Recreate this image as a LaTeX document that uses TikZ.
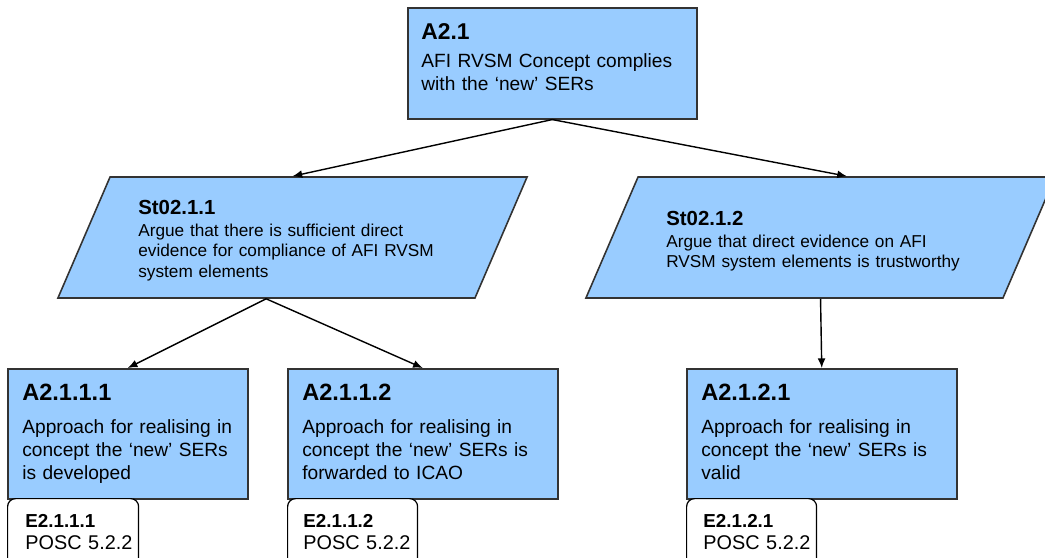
\documentclass[tikz,border=0pt]{standalone}
\usepackage{fontspec}
\setmainfont{Liberation Sans}
\usetikzlibrary{shapes.geometric,arrows.meta}
\definecolor{goalblue}{RGB}{153,204,255}

\begin{document}
\begin{tikzpicture}[x=0.02cm, y=-0.02cm,
	goal/.style={draw=black!80, fill=goalblue, line width=0.9pt, inner sep=0pt, anchor=north west, minimum height=2.6cm},
	strat/.style={trapezium, trapezium left angle=66.7, trapezium right angle=113.3,
		draw=black!80, fill=goalblue, line width=0.9pt, inner sep=0pt},
	evid/.style={draw=black, fill=white, rounded corners=4.5pt, line width=0.7pt, inner sep=0pt, anchor=north west,
		minimum height=1.6cm},
	link/.style={-{Latex[length=5.5pt,width=4.5pt]}, line width=0.8pt},
	ttl/.style={anchor=base west, inner sep=0pt, font=\bfseries\fontsize{#1}{#1}\selectfont},
	txt/.style 2 args={anchor=base west, inner sep=0pt, align=left, text width=7cm, font=\fontsize{#1}{#2}\selectfont}
	]
	%%%%% START %%%%%
	\useasboundingbox (0, 0) rectangle (1045, 558);
	
	% top claim
	\node[goal, minimum width=5.78cm, minimum height=2.22cm] (a21) at (407, 7) {};
	\node[ttl=13] (a21-ttl) at (421, 39) {A2.1};
	\node[txt={10.9}{13.6}] (a21-txt) at (421, 67) {AFI RVSM Concept complies\\with the ‘new’ SERs};
	
	% strategies
	\node[strat] (st211) at (292.5, 237.5) {\rule{7.3cm}{0pt}\rule{0pt}{2.42cm}};
	\node[ttl=11.6] (st211-ttl) at (138, 214) {St02.1.1};
	\node[txt={9.8}{11.9}] (st211-txt) at (138, 236) {Argue that there is sufficient direct\\evidence for compliance of AFI RVSM\\system elements};
	
	\node[strat] (st212) at (820.5, 237.5) {\rule{7.3cm}{0pt}\rule{0pt}{2.42cm}};
	\node[ttl=11.6] (st212-ttl) at (666, 225) {St02.1.2};
	\node[txt={9.8}{11.9}] (st212-txt) at (666, 247) {Argue that direct evidence on AFI\\RVSM system elements is trustworthy};
	
	% sub claims
	\node[goal, minimum width=4.8cm] (a2111) at (7, 368) {};
	\node[ttl=13.4] (a2111-ttl) at (22, 400) {A2.1.1.1};
	\node[txt={10.9}{13.3}] (a2111-txt) at (22, 433) {Approach for realising in\\concept the ‘new’ SERs\\is developed};
	
	\node[goal, minimum width=5.4cm] (a2112) at (287, 368) {};
	\node[ttl=13.4] (a2112-ttl) at (302, 400) {A2.1.1.2};
	\node[txt={10.9}{13.3}] (a2112-txt) at (302, 433) {Approach for realising in\\concept the ‘new’ SERs is\\forwarded to ICAO};
	
	\node[goal, minimum width=5.4cm] (a2121) at (686, 368) {};
	\node[ttl=13.4] (a2121-ttl) at (701, 400) {A2.1.2.1};
	\node[txt={10.9}{13.3}] (a2121-txt) at (701, 433) {Approach for realising in\\concept the ‘new’ SERs is\\valid};
	
	% evidence
	\node[evid, minimum width=2.62cm] (e2111) at (7, 498) {};
	\node[ttl=10.7] (e2111-ttl) at (25, 527) {E2.1.1.1};
	\node[txt={11.3}{13}] (e2111-txt) at (25, 549) {POSC 5.2.2};
	
	\node[evid, minimum width=2.6cm] (e2112) at (287, 498) {};
	\node[ttl=10.7] (e2112-ttl) at (303, 527) {E2.1.1.2};
	\node[txt={11.3}{13}] (e2112-txt) at (303, 549) {POSC 5.2.2};
	
	\node[evid, minimum width=2.6cm] (e2121) at (686, 498) {};
	\node[ttl=10.7] (e2121-ttl) at (703, 527) {E2.1.2.1};
	\node[txt={11.3}{13}] (e2121-txt) at (703, 549) {POSC 5.2.2};
	
	% links
	\draw[link] (a21.south) -- (st211.north);
	\draw[link] (a21.south) -- (st212.top side);
	\draw[link] (st211.bottom side) -- (a2111.north);
	\draw[link] (st211.bottom side) -- (a2112.north);
	\draw[link] (st212.south) -- (a2121.north);
	
	%%%%% END %%%%%
\end{tikzpicture}
\end{document}
